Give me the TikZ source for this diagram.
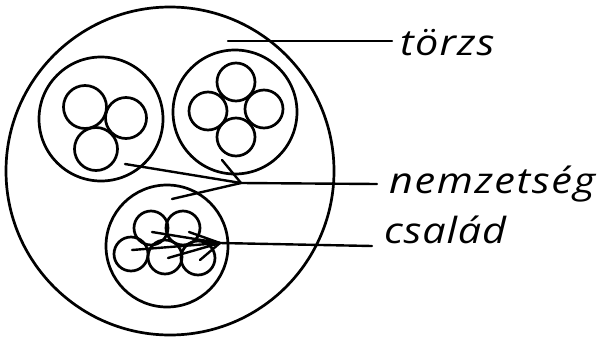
\documentclass[tikz,border=0pt]{standalone}
\usepackage{fontspec}
\setmainfont{Open Sans}
\begin{document}
\begin{tikzpicture}[x=1pt,y=-1pt,
  ring/.style={circle,draw,line width=2.7pt,inner sep=0pt,minimum size=#1},
  lead/.style={line width=2.4pt,line cap=round},
  lbl/.style={anchor=base west,inner sep=0pt,font=\fontsize{36}{36}\selectfont\itshape}]
\useasboundingbox (0,0) rectangle (597,338);
% outer
\node[ring=328pt] (torzs) at (170,171) {};
% left group
\node[ring=124pt] (g1) at (101,119) {};
\node[ring=43pt] (g1a) at (85,107) {};
\node[ring=41pt] (g1b) at (126,118) {};
\node[ring=43pt] (g1c) at (96,149) {};
% right group
\node[ring=124pt] (g2) at (235,112) {};
\node[ring=38pt] (g2a) at (236,82) {};
\node[ring=38pt] (g2b) at (208,111) {};
\node[ring=38pt] (g2c) at (264,109) {};
\node[ring=38pt] (g2d) at (236,137) {};
% bottom group
\node[ring=122pt] (g3) at (167,246) {};
\node[ring=34pt] (g3a) at (151,228) {};
\node[ring=34pt] (g3b) at (183,228) {};
\node[ring=34pt] (g3c) at (131,254) {};
\node[ring=34pt] (g3d) at (165,257) {};
\node[ring=34pt] (g3e) at (198,258) {};
% labels
\node[lbl] (ltorzs) at (400,55) {\scalebox{1.15}[1]{\hbox to 82pt{t\hss ö\hss r\hss z\hss s}}};
\node[lbl] (lnem) at (389,193) {\scalebox{1.15}[1]{\hbox to 179pt{n\hss e\hss m\hss z\hss e\hss t\hss s\hss é\hss g}}};
\node[lbl] (lcsa) at (384,243) {\scalebox{1.15}[1]{\hbox to 106pt{c\hss s\hss a\hss l\hss á\hss d}}};
% leader lines
\coordinate (t0) at (228,41);
\coordinate (t1) at (392,41);
\draw[lead] (t0) -- (t1);
\coordinate (n0) at (241,183);
\coordinate (n1) at (377,184);
\coordinate (na) at (125,164);
\coordinate (nb) at (222,160);
\coordinate (nc) at (172,199);
\draw[lead] (na) -- (n0);
\draw[lead] (nb) -- (n0);
\draw[lead] (nc) -- (n0);
\draw[lead] (n0) -- (n1);
\coordinate (c0) at (220,243);
\coordinate (c1) at (372,246);
\coordinate (ca) at (152,232);
\coordinate (cb) at (189,232);
\coordinate (cc) at (132,250);
\coordinate (cd) at (168,258);
\coordinate (ce) at (200,260);
\foreach \p in {ca,cb,cc,cd,ce} \draw[lead] (\p) -- (c0);
\fill (c0) -- ++(-14,-4) -- ++(1,8) -- cycle;
\draw[lead] (c0) -- (c1);
\end{tikzpicture}
\end{document}
